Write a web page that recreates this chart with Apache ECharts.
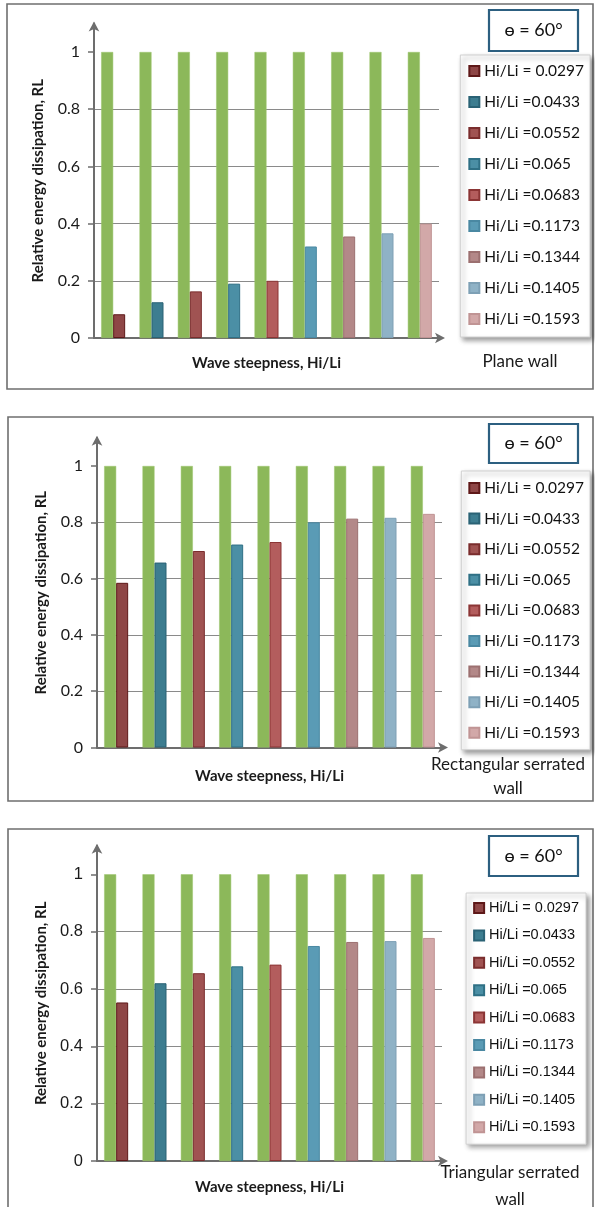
<!DOCTYPE html>
<html>
<head>
<meta charset="utf-8">
<script src="https://cdn.jsdelivr.net/npm/echarts@6/dist/echarts.min.js"></script>
<style>
html,body{margin:0;padding:0;background:#fff;}
#c{width:595px;height:1207px;}
</style>
</head>
<body>
<div id="c"></div>
<script>
// ---- data ----
const categories = ['0.0297','0.0433','0.0552','0.065','0.0683','0.1173','0.1344','0.1405','0.1593'];
const seriesNames = ['Hi/Li = 0.0297','Hi/Li =0.0433','Hi/Li =0.0552','Hi/Li =0.065','Hi/Li =0.0683','Hi/Li =0.1173','Hi/Li =0.1344','Hi/Li =0.1405','Hi/Li =0.1593'];
const incidentValues = [1,1,1,1,1,1,1,1,1];
const planeWall = [0.083,0.125,0.163,0.19,0.2,0.32,0.355,0.366,0.4];
const rectWall = [0.585,0.657,0.698,0.721,0.73,0.80,0.813,0.816,0.83];
const triWall = [0.553,0.62,0.655,0.679,0.685,0.75,0.764,0.767,0.778];
const yTicks = [0,0.2,0.4,0.6,0.8,1];
const panelTitles = [['Plane wall'],['Rectangular serrated','wall'],['Triangular serrated','wall']];
const angleLabel = '\u0275 = 60\u00b0';
const yName = 'Relative energy dissipation, RL';
const xName = 'Wave steepness, Hi/Li';

// ---- styles / layout ----
const greenColor = '#8cb85a';
const barColors = ['#8e4646','#3d7d90','#a05352','#4b8fa5','#b35d5d','#5a9bb5','#b38888','#8fb2c6','#d2a8a8'];
const barBorders = ['#5e1818','#2a6275','#7a2d2d','#2f7085','#8b3535','#4a88a2','#9c7070','#7ea0b5','#c09494'];
const CAL = 'Lato, "Open Sans", sans-serif';
const ARL = '"Liberation Sans", Arial, sans-serif';
const panels = [
  {values: planeWall, box:[7,4,586,385], left:94, y1:52, y0:338, tickFont:CAL, tickSize:16, xGap:18,
   legend:{right:5, top:55, lh:18, gap:13, pad:[7,6,9,8], font:CAL, size:15.5},
   angle:[489,10,89,41], title:{x:520, y:[362]}},
  {values: rectWall, box:[8,417,585,384], left:97, y1:466, y0:747.5, tickFont:CAL, tickSize:16, xGap:21,
   legend:{right:5, top:471, lh:20, gap:10.6, pad:[7,6,7,7], font:CAL, size:15.5},
   angle:[489,424,89,39], title:{x:508, y:[765,789]}},
  {values: triWall, box:[8,829,585,392], left:97, y1:874.3, y0:1161, tickFont:ARL, tickSize:16.5, xGap:19,
   legend:{right:9, top:893, lh:18, gap:9.4, pad:[6,7,8,7], font:ARL, size:14.5},
   angle:[489,836,89,40], title:{x:510, y:[1173,1200]}}
];

const grids=[], xAxes=[], yAxes=[], series=[], legends=[], graphics=[];
const ymax = 1.1;
panels.forEach((p, pi) => {
  const span = p.y0 - p.y1;
  const top = p.y1 - (ymax-1)*span;
  grids.push({left:p.left, top:top, width:345, height:p.y0-top});
  xAxes.push({type:'category', gridIndex:pi, data:categories,
    axisLine:{show:true, lineStyle:{color:'#6d6d6d', width:2}, symbol:['none','arrow'], symbolSize:[8,10], symbolOffset:[0,6]},
    axisTick:{show:false}, axisLabel:{show:false},
    name:xName, nameLocation:'middle', nameGap:p.xGap,
    nameTextStyle:{fontFamily:CAL, fontWeight:'bold', fontSize:15, color:'#1a1a1a'}});
  yAxes.push({type:'value', gridIndex:pi, min:0, max:ymax, interval:0.2,
    axisLine:{show:true, lineStyle:{color:'#6d6d6d', width:2}, symbol:['none','arrow'], symbolSize:[8,10], symbolOffset:[0,2]},
    axisTick:{show:true, length:6, inside:false, customValues:yTicks, lineStyle:{color:'#6d6d6d', width:1.5}},
    axisLabel:{customValues:yTicks, margin:14, fontFamily:p.tickFont, fontSize:p.tickSize, color:'#1a1a1a',
      formatter: v => (Math.round(v*10)/10).toString()},
    splitLine:{show:true, showMaxLine:false, lineStyle:{color:'#8a8a8a', width:1.2}},
    name:yName, nameLocation:'middle', nameGap:48,
    nameTextStyle:{fontFamily:CAL, fontWeight:'bold', fontSize:15, color:'#1a1a1a'}});
  series.push({type:'bar', name:'Incident', xAxisIndex:pi, yAxisIndex:pi, data:incidentValues,
    barWidth:12, barGap:'0%', itemStyle:{color:greenColor, borderColor:'#9cc46c', borderWidth:0.5}, silent:true});
  seriesNames.forEach((nm, i) => {
    series.push({type:'bar', name:nm, xAxisIndex:pi, yAxisIndex:pi, stack:'s'+pi,
      data: categories.map((c,j) => j===i ? p.values[i] : '-'),
      barWidth:12, barGap:'0%',
      itemStyle:{color:barColors[i], borderColor:barBorders[i], borderWidth:1}});
  });
  const L = p.legend;
  legends.push({data:seriesNames, orient:'vertical', right:L.right, top:L.top,
    itemWidth:10, itemHeight:10, itemGap:L.gap, icon:'rect', padding:L.pad, align:'left',
    backgroundColor:'#fff', borderColor:'#d0d0d0', borderWidth:1,
    shadowColor:'rgba(0,0,0,0.4)', shadowBlur:5, shadowOffsetX:3, shadowOffsetY:3,
    textStyle:{fontFamily:L.font, fontSize:L.size, lineHeight:L.lh, color:'#111'}, selectedMode:false});
  graphics.push({type:'rect', shape:{x:p.box[0], y:p.box[1], width:p.box[2], height:p.box[3]},
    style:{fill:null, stroke:'#6f6f6f', lineWidth:1.6}, z:-1});
  graphics.push({type:'rect', shape:{x:p.angle[0], y:p.angle[1], width:p.angle[2], height:p.angle[3]},
    style:{fill:'#fff', stroke:'#2c5f80', lineWidth:2.2}});
  graphics.push({type:'text', x:p.angle[0]+p.angle[2]/2, y:p.angle[1]+p.angle[3]/2,
    style:{text:angleLabel, fontFamily:CAL, fontSize:18, fill:'#111', align:'center', verticalAlign:'middle'}});
  panelTitles[pi].forEach((t, k) => {
    graphics.push({type:'text', x:p.title.x, y:p.title.y[k],
      style:{text:t, fontFamily:CAL, fontSize:17, fill:'#1a1a1a', align:'center', verticalAlign:'middle'}});
  });
});

const chart = echarts.init(document.getElementById('c'), null, {renderer:'canvas'});
chart.setOption({
  animation:false,
  backgroundColor:'#fff',
  grid:grids, xAxis:xAxes, yAxis:yAxes, legend:legends, series:series, graphic:graphics
});
</script>
</body>
</html>
